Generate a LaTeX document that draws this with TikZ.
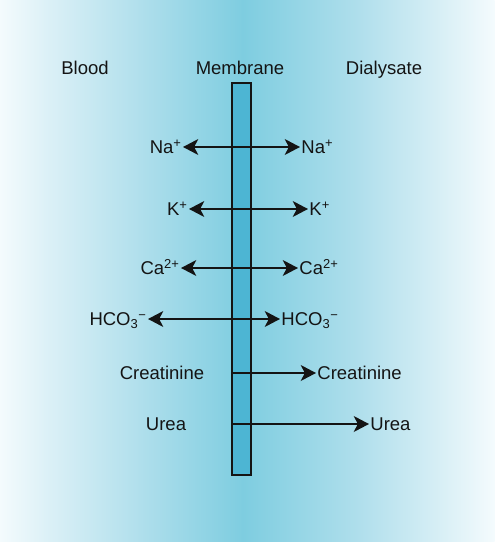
\documentclass[tikz,border=0pt]{standalone}
\usepackage{fontspec}
\setmainfont{Liberation Sans}
\usetikzlibrary{arrows.meta}
\definecolor{bgedge}{HTML}{F4FBFD}
\definecolor{bgpale}{HTML}{DDF1F7}
\definecolor{bgmid}{HTML}{B0DFEC}
\definecolor{bgcore}{HTML}{7ECDE0}
\definecolor{wall}{HTML}{4DB5D3}
\definecolor{ink}{HTML}{141414}

\begin{document}
\begin{tikzpicture}[x=0.03cm, y=-0.03cm, font=\fontsize{15.8}{18}\selectfont,
  lbl/.style={inner sep=1pt, text height=11.3pt, text depth=0pt, text=ink},
  ion/.style={line width=1.9pt, draw=ink, >={Stealth[length=13pt,width=13.5pt,inset=3.5pt]}}]
\useasboundingbox (0,0) rectangle (494,542);
% background
\foreach \xa/\xb/\ca/\cb in {0/45/bgedge/bgpale, 45/140/bgpale/bgmid, 140/243/bgmid/bgcore,
                             243/360/bgcore/bgmid, 360/450/bgmid/bgpale, 450/494/bgpale/bgedge} {
\shade[left color=\ca, right color=\cb] (\xa-0.5,-1) rectangle (\xb+0.5,543);
}
% membrane
\draw[line width=1.7pt, draw=ink, fill=wall] (232,83) rectangle (251,475);
\coordinate (mem) at (232,83);

\node[lbl] (blood) at (85,68) {Blood};
\node[lbl] (membrane) at (240,68) {Membrane};
\node[lbl] (dialysate) at (384,68) {Dialysate};

% ions that go both ways
\foreach \n/\y/\xl/\xr/\t in {na/147/183/300/{Na\textsuperscript{+}}, k/209/189/308/{K\textsuperscript{+}},
                              ca/268/181/298/{Ca\textsuperscript{2+}}, hco/319/148/280/{HCO\textsubscript{3}\textsuperscript{−}}} {
\node[lbl, anchor=east] (l\n) at (\xl,\y) {\t};
\node[lbl, anchor=west] (r\n) at (\xr,\y) {\t};
\draw[ion,<->] (l\n) -- (r\n);
}

% waste that only leaves the blood
\foreach \n/\y/\xl/\xr/\t in {cr/373/162/316/Creatinine, ur/424/166/369/Urea} {
\node[lbl] (l\n) at (\xl,\y) {\t};
\node[lbl, anchor=west] (r\n) at (\xr,\y) {\t};
\draw[ion,->] (mem |- r\n.west) -- (r\n);
}
\end{tikzpicture}
\end{document}
